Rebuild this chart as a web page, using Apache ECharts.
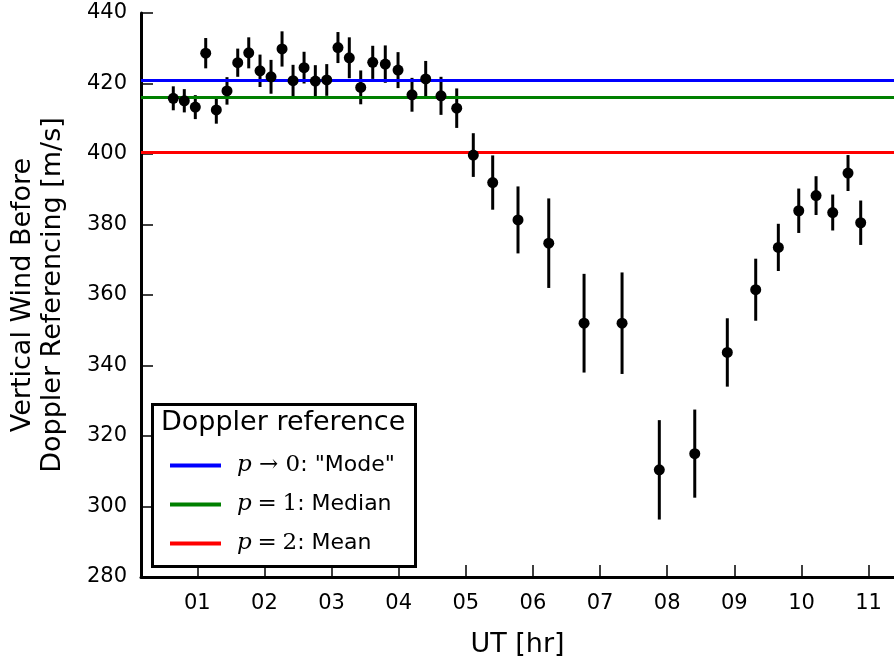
<!DOCTYPE html>
<html>
<head>
<meta charset="utf-8">
<title>Vertical wind before Doppler referencing</title>
<script src="https://cdn.jsdelivr.net/npm/echarts@6/dist/echarts.min.js"></script>
<style>
  html, body { margin: 0; padding: 0; background: #fff; }
  #chart { width: 894px; height: 661px; }
</style>
</head>
<body>
<div id="chart"></div>
<script>
// Observation times (UT hours)
const utHours = [0.642, 0.806, 0.970, 1.125, 1.283, 1.442, 1.602, 1.766, 1.934, 2.098,
  2.262, 2.426, 2.590, 2.758, 2.928, 3.095, 3.264, 3.434, 3.613, 3.800,
  3.990, 4.198, 4.402, 4.630, 4.864, 5.111, 5.400, 5.777, 6.235, 6.761,
  7.327, 7.882, 8.410, 8.895, 9.318, 9.655, 9.959, 10.217, 10.465, 10.693, 10.882];

// Vertical wind before Doppler referencing [m/s]
const windValues = [415.8, 415.1, 413.3, 428.6, 412.5, 417.9, 425.9, 428.7, 423.6, 421.9,
  429.8, 420.8, 424.5, 420.7, 421.0, 430.2, 427.3, 418.9, 426.0, 425.5,
  423.8, 416.8, 421.3, 416.5, 413.0, 399.7, 391.9, 381.3, 374.7, 352.0,
  352.0, 310.4, 315.0, 343.7, 361.5, 373.5, 383.9, 388.2, 383.4, 394.6, 380.5];

// One-sigma uncertainty of each estimate [m/s]
const windErrors = [3.4, 3.3, 3.4, 4.3, 3.9, 3.9, 4.0, 4.4, 4.6, 4.8,
  5.0, 4.5, 4.5, 4.5, 4.5, 4.4, 5.8, 4.8, 4.7, 5.3,
  5.1, 4.8, 5.1, 5.4, 5.6, 6.2, 7.7, 9.5, 12.7, 14.0,
  14.4, 14.1, 12.5, 9.7, 8.8, 6.7, 6.3, 5.5, 5.1, 5.1, 6.3];

// Doppler reference levels (generalised p-mean of the winds)
const refNames = ['Mode', 'Median', 'Mean'];
const refValues = [421.0, 416.0, 400.6];
const refColors = ['#0000ff', '#008000', '#ff0000'];
const refLabels = [
  '{m|p}{n| \u2192 0}{t|: "Mode"}',
  '{m|p}{n|\u2005=\u20051}{t|: Median}',
  '{m|p}{n|\u2005=\u20052}{t|: Mean}'
];

// Tick labels on the time axis
const hourTicks = [1, 2, 3, 4, 5, 6, 7, 8, 9, 10, 11];
const yTicks = [280, 300, 320, 340, 360, 380, 400, 420, 440];

const FONT = 'DejaVu Sans';

const chart = echarts.init(document.getElementById('chart'), null, { renderer: 'canvas' });

const errorData = utHours.map((h, i) => [h, windValues[i] - windErrors[i], windValues[i] + windErrors[i]]);
const pointData = utHours.map((h, i) => [h, windValues[i]]);

const refSeries = refNames.map((name, i) => ({
  name: name,
  type: 'line',
  data: [],
  symbol: 'none',
  itemStyle: { color: refColors[i] },
  lineStyle: { color: refColors[i], width: 3 },
  z: 3,
  markLine: {
    silent: true,
    symbol: 'none',
    label: { show: false },
    lineStyle: { color: refColors[i], width: 3, type: 'solid' },
    emphasis: { disabled: true },
    data: [{ yAxis: refValues[i] }]
  }
}));

const option = {
  animation: false,
  backgroundColor: '#ffffff',
  textStyle: { fontFamily: FONT },
  grid: { left: 141, top: 13, right: 0, bottom: 84, containLabel: false, outerBoundsMode: 'none' },
  title: {
    text: 'Doppler reference',
    left: 152,
    top: 404,
    z: 3,
    backgroundColor: '#ffffff',
    borderColor: '#000000',
    borderWidth: 3,
    padding: [5, 10, 131, 9],
    textStyle: { fontFamily: FONT, fontSize: 27, fontWeight: 'normal', color: '#000' }
  },
  legend: {
    orient: 'vertical',
    left: 170,
    top: 454,
    z: 5,
    padding: 0,
    itemGap: 16,
    itemWidth: 51,
    itemHeight: 4,
    icon: 'rect',
    selectedMode: false,
    data: refNames,
    formatter: function (name) {
      return refLabels[refNames.indexOf(name)];
    },
    textStyle: {
      padding: [0, 0, 0, 11],
      rich: {
        m: { fontFamily: 'DejaVu Serif', fontStyle: 'italic', fontSize: 23, color: '#000', height: 27 },
        n: { fontFamily: 'DejaVu Serif', fontSize: 23, color: '#000', height: 27 },
        t: { fontFamily: FONT, fontSize: 22, color: '#000', height: 27 }
      }
    }
  },
  xAxis: {
    type: 'value',
    min: 0.161,
    max: 11.378,
    name: 'UT [hr]',
    nameLocation: 'middle',
    nameGap: 54,
    nameTextStyle: { fontFamily: FONT, fontSize: 27, color: '#000' },
    axisLine: { show: true, onZero: false, lineStyle: { color: '#000', width: 3 } },
    axisTick: { show: true, inside: true, length: 12, customValues: hourTicks, lineStyle: { color: '#000', width: 1.5 } },
    axisLabel: {
      customValues: hourTicks,
      margin: 16,
      fontFamily: FONT,
      fontSize: 21,
      color: '#000',
      formatter: v => (v < 10 ? '0' : '') + v
    },
    splitLine: { show: false }
  },
  yAxis: {
    type: 'value',
    min: 280,
    max: 440,
    interval: 20,
    name: 'Vertical Wind Before\nDoppler Referencing [m/s]',
    nameLocation: 'middle',
    nameGap: 73,
    nameRotate: 90,
    nameTextStyle: { fontFamily: FONT, fontSize: 27, color: '#000', lineHeight: 30, align: 'center' },
    axisLine: { show: true, onZero: false, lineStyle: { color: '#000', width: 3 } },
    axisTick: { show: true, inside: true, length: 12, lineStyle: { color: '#000', width: 1.5 } },
    axisLabel: {
      margin: 14,
      fontFamily: FONT,
      fontSize: 21,
      color: '#000',
      formatter: v => (yTicks.indexOf(v) >= 0 ? String(v) : '')
    },
    splitLine: { show: false }
  },
  series: [
    ...refSeries,
    {
      name: 'error',
      type: 'custom',
      z: 4,
      silent: true,
      encode: { x: 0, y: [1, 2] },
      data: errorData,
      renderItem: function (params, api) {
        const x = api.value(0);
        const lo = api.coord([x, api.value(1)]);
        const hi = api.coord([x, api.value(2)]);
        return {
          type: 'line',
          shape: { x1: lo[0], y1: lo[1], x2: hi[0], y2: hi[1] },
          style: { stroke: '#000', lineWidth: 3 }
        };
      }
    },
    {
      name: 'wind',
      type: 'scatter',
      z: 5,
      silent: true,
      symbol: 'circle',
      symbolSize: 11,
      itemStyle: { color: '#000', opacity: 1 },
      data: pointData
    }
  ]
};

chart.setOption(option);
</script>
</body>
</html>
